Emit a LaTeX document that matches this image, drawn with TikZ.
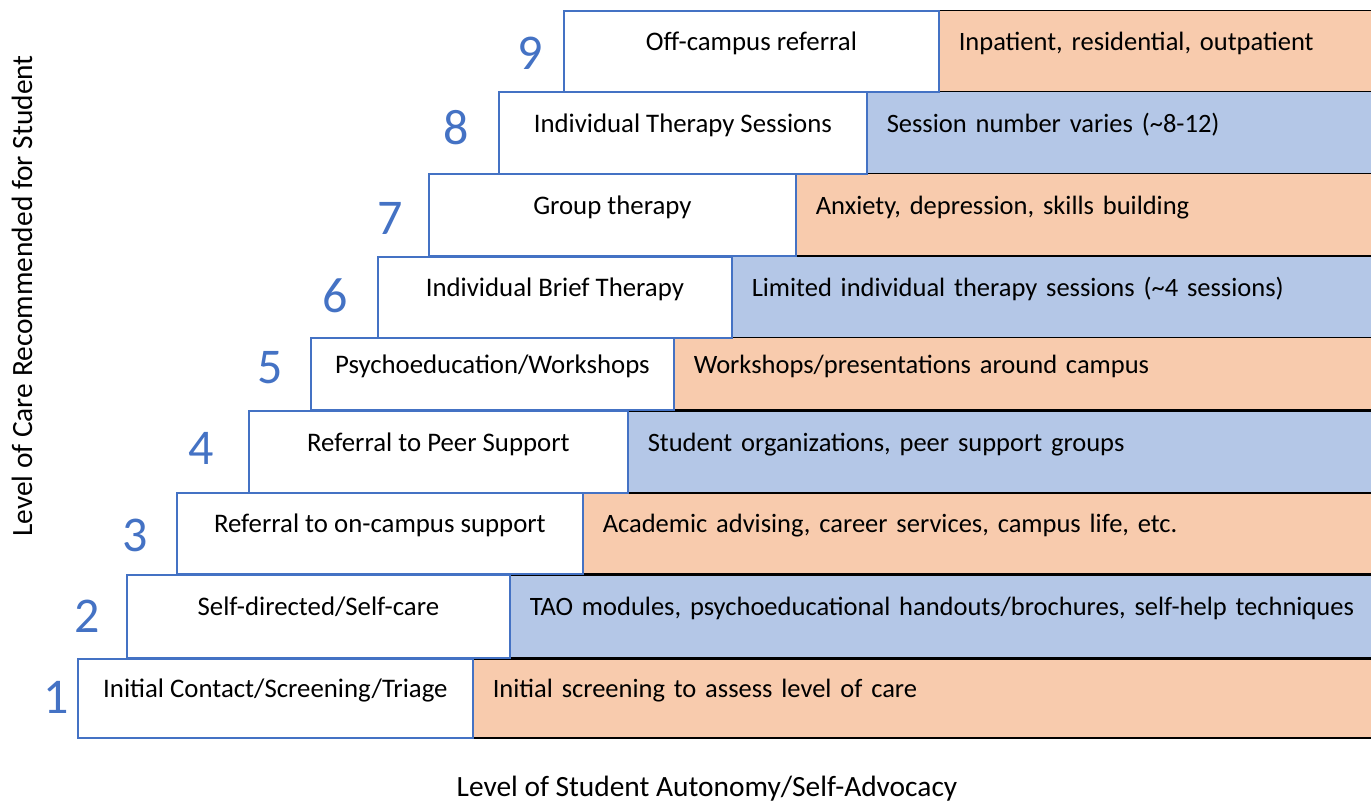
\documentclass[tikz,border=0pt]{standalone}
\usepackage{fontspec}
\setmainfont{Carlito}
\definecolor{peach}{HTML}{F8CBAD}
\definecolor{paleblue}{HTML}{B4C7E7}
\definecolor{stepblue}{HTML}{4472C4}

\tikzset{
  lvlbox/.style={draw=stepblue, line width=1.8pt, fill=white, anchor=north west, inner sep=0pt,
                 text height=20pt, text depth=21pt, font=\fontsize{26.8}{30}\selectfont},
  infobox/.style={draw=black, line width=1.5pt, anchor=north west, inner xsep=20pt, inner ysep=0pt,
                  text width=960pt, align=left, text height=20pt, text depth=21pt, font=\fontsize{26.5}{30}\selectfont},
  lvlnum/.style={text=stepblue, inner sep=0pt, font=\fontsize{50}{55}\selectfont},
  axislabel/.style={inner sep=0pt, font=\fontsize{29.4}{33}\selectfont}
}

\begin{document}
\begin{tikzpicture}[x=1pt, y=-1pt]

 \useasboundingbox (0,0) rectangle (1371,802);

 %%%%%%%%%% Level 1 %%%%%%%%%%
 \node[infobox, fill=peach, minimum height=79pt] (i1) at (472,658) {Initial screening to assess level of care};
 \node[lvlbox, minimum width=395pt, minimum height=79pt] (w1) at (77,658) {Initial Contact/Screening/Triage};
 \node[lvlnum] (n1) at (56,697) {1};

 %%%%%%%%%% Level 2 %%%%%%%%%%
 \node[infobox, fill=paleblue, minimum height=83pt] (i2) at (509,574) {TAO modules, psychoeducational handouts/brochures, self-help techniques};
 \node[lvlbox, minimum width=383pt, minimum height=83pt] (w2) at (126,574) {Self-directed/Self-care};
 \node[lvlnum] (n2) at (87,616) {2};

 %%%%%%%%%% Level 3 %%%%%%%%%%
 \node[infobox, fill=peach, minimum height=81pt] (i3) at (582,492) {Academic advising, career services, campus life, etc.};
 \node[lvlbox, minimum width=406pt, minimum height=81pt] (w3) at (176,492) {Referral to on-campus support};
 \node[lvlnum] (n3) at (135,535) {3};

 %%%%%%%%%% Level 4 %%%%%%%%%%
 \node[infobox, fill=paleblue, minimum height=82pt] (i4) at (627,410) {Student organizations, peer support groups};
 \node[lvlbox, minimum width=379pt, minimum height=82pt] (w4) at (248,410) {Referral to Peer Support};
 \node[lvlnum] (n4) at (201,448) {4};

 %%%%%%%%%% Level 5 %%%%%%%%%%
 \node[infobox, fill=peach, minimum height=72pt] (i5) at (673,337) {Workshops/presentations around campus};
 \node[lvlbox, minimum width=363pt, minimum height=72pt] (w5) at (310,337) {Psychoeducation/Workshops};
 \node[lvlnum] (n5) at (270,368) {5};

 %%%%%%%%%% Level 6 %%%%%%%%%%
 \node[infobox, fill=paleblue, minimum height=81pt] (i6) at (731,256) {Limited individual therapy sessions (\textasciitilde 4 sessions)};
 \node[lvlbox, minimum width=354pt, minimum height=81pt] (w6) at (377,256) {Individual Brief Therapy};
 \node[lvlnum] (n6) at (335,296) {6};

 %%%%%%%%%% Level 7 %%%%%%%%%%
 \node[infobox, fill=peach, minimum height=82pt] (i7) at (795,173) {Anxiety, depression, skills building};
 \node[lvlbox, minimum width=367pt, minimum height=82pt] (w7) at (428,173) {Group therapy};
 \node[lvlnum] (n7) at (390,218) {7};

 %%%%%%%%%% Level 8 %%%%%%%%%%
 \node[infobox, fill=paleblue, minimum height=82pt] (i8) at (866,91) {Session number varies (\textasciitilde 8-12)};
 \node[lvlbox, minimum width=368pt, minimum height=82pt] (w8) at (498,91) {Individual Therapy Sessions};
 \node[lvlnum] (n8) at (456,128) {8};

 %%%%%%%%%% Level 9 %%%%%%%%%%
 \node[infobox, fill=peach, minimum height=81pt] (i9) at (938,10) {Inpatient, residential, outpatient};
 \node[lvlbox, minimum width=375pt, minimum height=81pt] (w9) at (563,10) {Off-campus referral};
 \node[lvlnum] (n9) at (530,53) {9};

 %%%%%%%%%% Axes %%%%%%%%%%
 \node[axislabel] (xlab) at (707,789) {Level of Student Autonomy/Self-Advocacy};
 \node[axislabel, rotate=90] (ylab) at (22,296) {Level of Care Recommended for Student};

\end{tikzpicture}
\end{document}
